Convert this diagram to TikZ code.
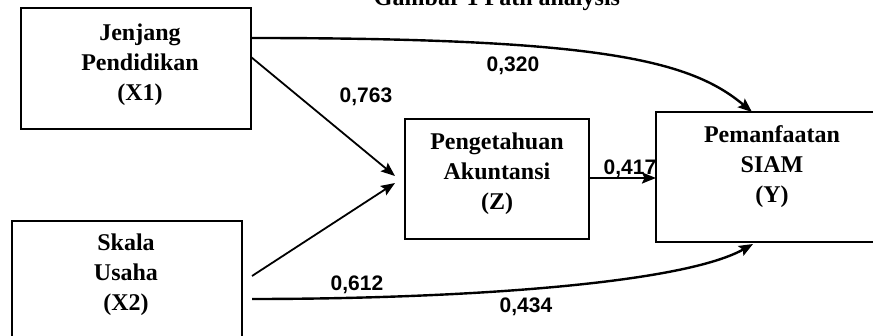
\documentclass[tikz,border=0pt]{standalone}
\usepackage{fontspec}
\setmainfont{Liberation Serif}
\newfontfamily\numfont{Liberation Sans}
\usetikzlibrary{arrows.meta,calc}
\begin{document}
\begin{tikzpicture}[x=1pt,y=-1pt,
  box/.style={draw, line width=1.5pt, inner sep=0pt, outer sep=0pt},
  lbl/.style={font=\fontsize{24}{30}\selectfont\bfseries, align=center, inner sep=0pt},
  coef/.style={font=\numfont\fontsize{21}{21}\selectfont\bfseries, inner sep=0pt, anchor=base},
  link/.style={line width=1.8pt, -{Stealth[length=14pt,width=11pt,inset=2.5pt]}},
  curvelink/.style={link, line width=2.4pt}]
\useasboundingbox (0,0) rectangle (873,336);
\clip (0,0) rectangle (873,336);

% caption (runs off the top edge)
\node[lbl, anchor=base] (title) at (497,6) {Gambar 1 Path analysis};

% variable boxes
\node[box, minimum width=230pt, minimum height=121pt] (x1) at (136,68.5) {};
\node[box, minimum width=230pt, minimum height=124pt] (x2) at (127,283) {};
\node[box, minimum width=184pt, minimum height=120pt] (z)  at (497,179) {};
\node[box, minimum width=232pt, minimum height=130pt] (y)  at (772,177) {};

\node[lbl] (x1t) at (140,65)  {Jenjang\\Pendidikan\\(X1)};
\node[lbl] (x2t) at (126,275) {Skala\\Usaha\\(X2)};
\node[lbl] (zt)  at (497,173.5) {Pengetahuan\\Akuntansi\\(Z)};
\node[lbl] (yt)  at (772,166.5) {Pemanfaatan\\SIAM\\(Y)};

% connector end points
\coordinate (x1a) at ($(x1.east)+(0,-30.5)$);
\coordinate (x1b) at ($(x1.east)+(0,-11.5)$);
\coordinate (x2a) at ($(x2.east)+(10,-7)$);
\coordinate (x2b) at ($(x2.east)+(10,16)$);
\coordinate (zin1) at ($(z.west)+(-10,-3)$);
\coordinate (zin2) at ($(z.west)+(-10,4)$);
\coordinate (zout) at ($(z.east)+(0,-1)$);
\coordinate (ytop) at ($(y.north)+(-20,0)$);
\coordinate (ybot) at ($(y.south)+(-19,2)$);

% paths
\draw[curvelink] (x1a) .. controls (600,38) and (690,60) .. (ytop);
\draw[link] (x1b) -- (zin1);
\draw[link] (x2a) -- (zin2);
\draw[link, line width=2.2pt] (zout) -- (zout -| y.west);
\draw[curvelink] (x2b) .. controls (450,299) and (680,285) .. (ybot);

% path coefficients
\node[coef] (c320) at (513,72)  {0,320};
\node[coef] (c763) at (366,103) {0,763};
\node[coef] (c417) at (630,175) {0,417};
\node[coef] (c612) at (357,291) {0,612};
\node[coef] (c434) at (526,313) {0,434};
\end{tikzpicture}
\end{document}
